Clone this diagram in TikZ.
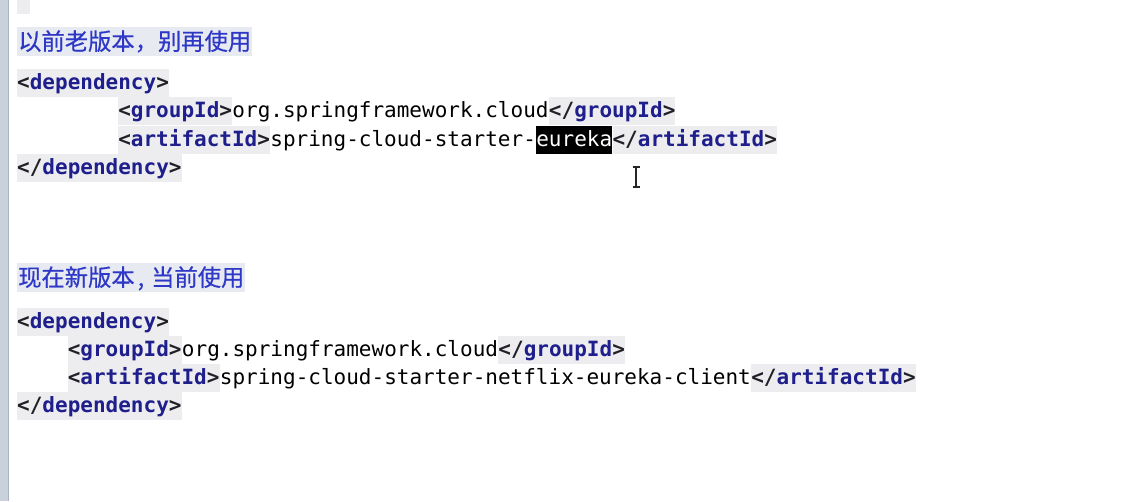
\documentclass[tikz,border=0pt]{standalone}
\usepackage{fontspec}
\usetikzlibrary{positioning}
\newfontfamily\codefont{DejaVu Sans Mono}
\newfontfamily\cjkfont[FakeBold=0.6]{Noto Sans CJK SC}
\definecolor{hlgray}{HTML}{EDEDEF}
\definecolor{notebg}{HTML}{E8EAF1}
\definecolor{notec}{HTML}{2E38C6}
\definecolor{tagc}{HTML}{1E1E8C}
\definecolor{brkc}{HTML}{202028}
\definecolor{barc}{HTML}{C9D1DC}
\definecolor{barline}{HTML}{A9B3C1}
\newcommand{\otag}[1]{{\color{brkc}<}{\color{tagc}#1}{\color{brkc}>}}
\newcommand{\ctag}[1]{{\color{brkc}</}{\color{tagc}#1}{\color{brkc}>}}
\tikzset{
	code/.style={font=\codefont\fontsize{21}{28}\selectfont, inner sep=0pt, text height=20pt, text depth=8pt, anchor=base west},
	tagbox/.style={code, fill=hlgray, font=\codefont\fontsize{21}{28}\bfseries\selectfont},
	plain/.style={code},
	selbox/.style={code, fill=black, text=white},
	note/.style={font=\cjkfont\fontsize{23.3}{28}\selectfont, text=notec, fill=notebg, inner xsep=1pt, inner ysep=0pt, text height=23pt, text depth=6pt, anchor=base west},
	curs/.style={line width=1.4pt, black!85},
}
\begin{document}
\begin{tikzpicture}[x=1pt,y=-1pt]
	\useasboundingbox (0,0) rectangle (1138,501);
	\fill[white] (0,0) rectangle (1138,501);
	% editor margin
	\fill[barc] (0,0) rectangle (8,501);
	\draw[barline,line width=1pt] (8.5,0) -- (8.5,501);
	\fill[hlgray] (17,0) rectangle (30,14);
	% old version
	\node[note] (old) at (17,50) {以前老版本，别再使用};
	\node[tagbox] (od1) at (17,89) {\otag{dependency}};
	\node[tagbox] (og1) at (118.1,117) {\otag{groupId}};
	\node[plain] (og2) at (og1.base east) {org.springframework.cloud};
	\node[tagbox] (og3) at (og2.base east) {\ctag{groupId}};
	\node[tagbox] (oa1) at (118.1,146) {\otag{artifactId}};
	\node[plain] (oa2) at (oa1.base east) {spring-cloud-starter-};
	\node[selbox] (oa3) at (oa2.base east) {eureka};
	\node[tagbox] (oa4) at (oa3.base east) {\ctag{artifactId}};
	\node[tagbox] (od2) at (17,174) {\ctag{dependency}};
	% text cursor
	\draw[curs] (632.5,167) -- (639.5,167) (636,167) -- (636,187) (632.5,187) -- (639.5,187);
	% new version
	\node[note] (new) at (17,286) {现在新版本\hspace{3pt},\hspace{7pt}当前使用};
	\node[tagbox] (nd1) at (17,328) {\otag{dependency}};
	\node[tagbox] (ng1) at (67.6,356) {\otag{groupId}};
	\node[plain] (ng2) at (ng1.base east) {org.springframework.cloud};
	\node[tagbox] (ng3) at (ng2.base east) {\ctag{groupId}};
	\node[tagbox] (na1) at (67.6,384) {\otag{artifactId}};
	\node[plain] (na2) at (na1.base east) {spring-cloud-starter-netflix-eureka-client};
	\node[tagbox] (na3) at (na2.base east) {\ctag{artifactId}};
	\node[tagbox] (nd2) at (17,412) {\ctag{dependency}};
\end{tikzpicture}
\end{document}
